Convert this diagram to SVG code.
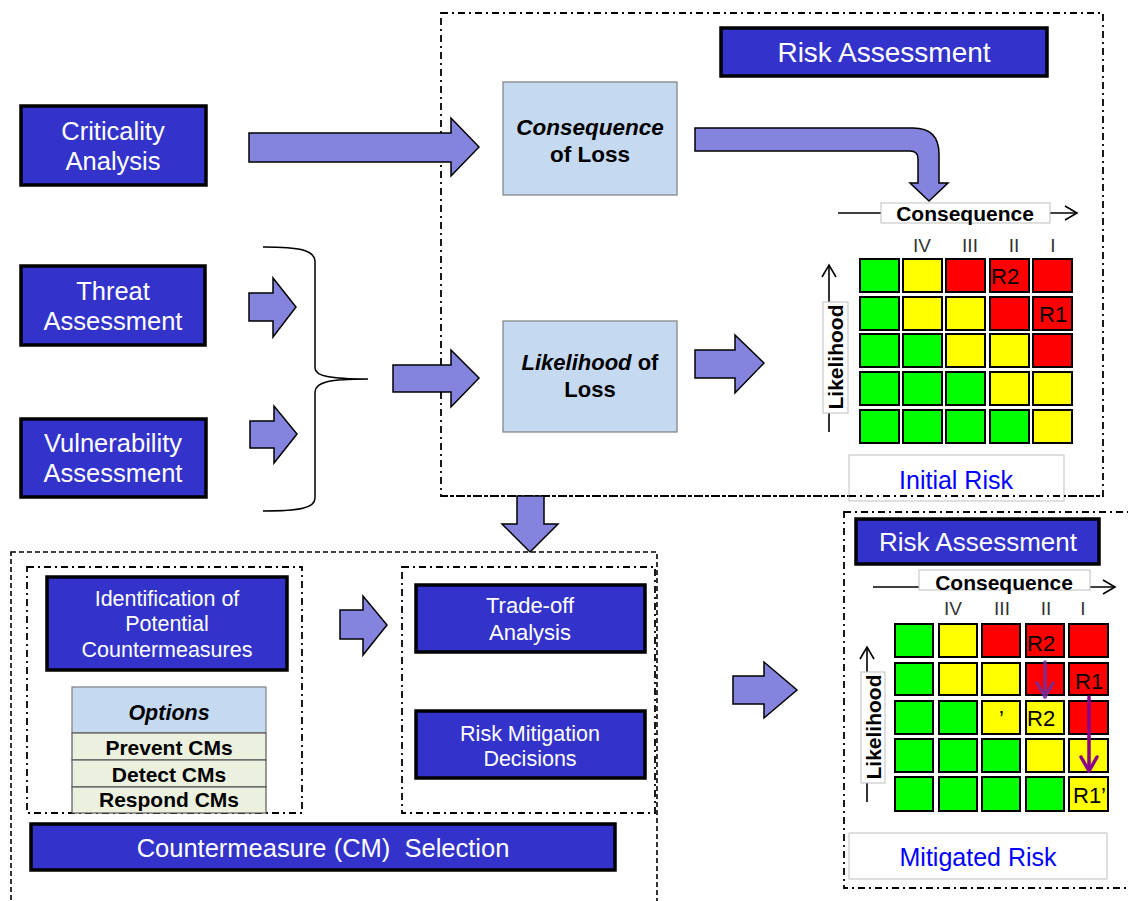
<svg xmlns="http://www.w3.org/2000/svg" width="1128" height="901" viewBox="0 0 1128 901">
<style>
.bg{fill:#fff}
.db{fill:#3333CC;stroke:#000;stroke-width:3.5}
.lb{fill:#C5D9F1;stroke:#7F7F7F;stroke-width:1.2}
.arr{fill:#8484DE;stroke:#000;stroke-width:1.5;stroke-linejoin:miter}
.dd{fill:none;stroke:#000;stroke-width:1.8;stroke-dasharray:7 4 2 4}
.ds{fill:none;stroke:#000;stroke-width:1.6;stroke-dasharray:5 3}
.wt{fill:#fff;font-family:"Liberation Sans",Arial,sans-serif;text-anchor:middle}
.nt{fill:#fff;font-family:"Liberation Sans",Arial,sans-serif;text-anchor:middle}
.bt{fill:#000;font-family:"Liberation Sans",Arial,sans-serif;font-weight:bold;text-anchor:middle}
.bn{fill:#000;font-family:"Liberation Sans",Arial,sans-serif;font-weight:bold;text-anchor:middle}
.num{fill:#333;font-family:"Liberation Sans",Arial,sans-serif;font-size:19px;text-anchor:middle}
.rl{fill:#000;font-family:"Liberation Sans",Arial,sans-serif;font-size:22px}
.blue{fill:#0000FF;font-family:"Liberation Sans",Arial,sans-serif;font-size:25px;text-anchor:middle}
.lbl{fill:#fff;stroke:#BFBFBF;stroke-width:1}
.ax{fill:none;stroke:#000;stroke-width:1.6}
.g{fill:#00FF00;stroke:#000;stroke-width:2}
.y{fill:#FFFF00;stroke:#000;stroke-width:2}
.r{fill:#FF0000;stroke:#000;stroke-width:2}
</style>
<rect class="bg" x="0" y="0" width="1128" height="901"/>

<!-- containers -->
<g id="risk-assessment-frame">
<rect class="dd" x="441" y="13" width="662" height="483"/>
</g>
<g id="cm-selection-frame">
<rect class="ds" x="11" y="552" width="646" height="360"/>
<rect class="dd" x="27" y="567" width="275" height="246"/>
<rect class="dd" x="402" y="567" width="253" height="246"/>
</g>
<g id="mitigated-frame">
<rect class="dd" x="844" y="512" width="290" height="376"/>
</g>

<!-- left inputs -->
<g id="criticality">
<rect class="db" x="21" y="106" width="185" height="79"/>
<text class="wt" font-size="25.5" x="113" y="140">Criticality</text>
<text class="wt" font-size="25.5" x="113" y="170">Analysis</text>
</g>
<g id="threat">
<rect class="db" x="21" y="266" width="184" height="79"/>
<text class="wt" font-size="25.5" x="113" y="300">Threat</text>
<text class="wt" font-size="25.5" x="113" y="330">Assessment</text>
</g>
<g id="vulnerability">
<rect class="db" x="21" y="419" width="185" height="78"/>
<text class="wt" font-size="25.5" x="113" y="452">Vulnerability</text>
<text class="wt" font-size="25.5" x="113" y="482">Assessment</text>
</g>
<g id="brace">
<path d="M263,247 C300,247 315,250 315,262 V368 C315,376 330,379 368,379 C330,379 315,382 315,392 V498 C315,508 300,511 263,511" fill="none" stroke="#000" stroke-width="1.5"/>
</g>

<!-- risk assessment -->
<g id="risk-assessment-title">
<rect class="db" x="721" y="28" width="326" height="48"/>
<text class="wt" font-size="28" x="884" y="62">Risk Assessment</text>
</g>
<g id="consequence-of-loss">
<rect class="lb" x="503" y="82" width="174" height="113"/>
<text class="bt" font-size="22.5" x="590" y="135" font-style="italic">Consequence</text>
<text class="bt" font-size="22.5" x="590" y="162">of Loss</text>
</g>
<g id="likelihood-of-loss">
<rect class="lb" x="503" y="321" width="174" height="111"/>
<text class="bt" font-size="22" x="590" y="370"><tspan font-style="italic">Likelihood</tspan> of</text>
<text class="bt" font-size="22" x="590" y="397">Loss</text>
</g>

<g id="initial-matrix">
<line class="ax" x1="838" y1="213" x2="1076" y2="213"/>
<polyline class="ax" points="1065,206 1077,213 1065,220"/>
<rect class="lbl" x="881" y="203" width="169" height="20"/>
<text class="bt" font-size="21" x="965" y="221">Consequence</text>
<text class="num" x="922" y="252">IV</text>
<text class="num" x="970" y="252">III</text>
<text class="num" x="1014" y="252">II</text>
<text class="num" x="1053" y="252">I</text>
<line class="ax" x1="829" y1="266" x2="829" y2="432"/>
<polyline class="ax" points="822,277 829,265 836,277"/>
<rect class="lbl" x="823" y="302" width="25" height="111"/>
<text class="bt" font-size="21" transform="translate(843,357) rotate(-90)" x="0" y="0">Likelihood</text>
<g>
<rect class="g" x="860" y="259" width="39" height="33"/><rect class="y" x="903" y="259" width="39" height="33"/><rect class="r" x="946" y="259" width="39" height="33"/><rect class="r" x="990" y="259" width="39" height="33"/><rect class="r" x="1033" y="259" width="39" height="33"/>
<rect class="g" x="860" y="297" width="39" height="33"/><rect class="y" x="903" y="297" width="39" height="33"/><rect class="y" x="946" y="297" width="39" height="33"/><rect class="r" x="990" y="297" width="39" height="33"/><rect class="r" x="1033" y="297" width="39" height="33"/>
<rect class="g" x="860" y="334" width="39" height="33"/><rect class="g" x="903" y="334" width="39" height="33"/><rect class="y" x="946" y="334" width="39" height="33"/><rect class="y" x="990" y="334" width="39" height="33"/><rect class="r" x="1033" y="334" width="39" height="33"/>
<rect class="g" x="860" y="372" width="39" height="33"/><rect class="g" x="903" y="372" width="39" height="33"/><rect class="g" x="946" y="372" width="39" height="33"/><rect class="y" x="990" y="372" width="39" height="33"/><rect class="y" x="1033" y="372" width="39" height="33"/>
<rect class="g" x="860" y="410" width="39" height="33"/><rect class="g" x="903" y="410" width="39" height="33"/><rect class="g" x="946" y="410" width="39" height="33"/><rect class="g" x="990" y="410" width="39" height="33"/><rect class="y" x="1033" y="410" width="39" height="33"/>
</g>
<text class="rl" x="991" y="284">R2</text>
<text class="rl" x="1039" y="322">R1</text>
</g>
<g id="initial-risk">
<rect class="lbl" x="849" y="455" width="215" height="46"/>
<text class="blue" x="956" y="489">Initial Risk</text>
</g>
<line x1="441" y1="496" x2="1103" y2="496" class="dd"/>

<!-- CM selection -->
<g id="identification">
<rect class="db" x="47" y="577" width="240" height="93"/>
<text class="nt" font-size="21.5" x="167" y="606">Identification of</text>
<text class="nt" font-size="21.5" x="167" y="631">Potential</text>
<text class="nt" font-size="21.5" x="167" y="657">Countermeasures</text>
</g>
<g id="options">
<rect x="72" y="687" width="194" height="46" fill="#C5D9F1" stroke="#7F7F7F" stroke-width="1.2"/>
<rect x="72" y="733" width="194" height="27" fill="#EBF1DE" stroke="#595959" stroke-width="1.2"/>
<rect x="72" y="760" width="194" height="27" fill="#EBF1DE" stroke="#595959" stroke-width="1.2"/>
<rect x="72" y="787" width="194" height="26" fill="#EBF1DE" stroke="#595959" stroke-width="1.2"/>
<text class="bn" font-size="21.5" font-style="italic" x="169" y="720">Options</text>
<text class="bn" font-size="21" x="169" y="755">Prevent CMs</text>
<text class="bn" font-size="21" x="169" y="782">Detect CMs</text>
<text class="bn" font-size="21" x="169" y="807">Respond CMs</text>
</g>
<g id="tradeoff">
<rect class="db" x="416" y="585" width="229" height="67"/>
<text class="nt" font-size="22" x="530" y="613">Trade-off</text>
<text class="nt" font-size="22" x="530" y="640">Analysis</text>
</g>
<g id="risk-mitigation">
<rect class="db" x="416" y="711" width="229" height="67"/>
<text class="nt" font-size="21.5" x="530" y="741">Risk Mitigation</text>
<text class="nt" font-size="21.5" x="530" y="766">Decisions</text>
</g>
<g id="cm-selection">
<rect class="db" x="31" y="824" width="584" height="46"/>
<text class="nt" font-size="25.5" x="323" y="857" xml:space="preserve">Countermeasure (CM)  Selection</text>
</g>

<!-- mitigated -->
<g id="risk-assessment-2">
<rect class="db" x="856" y="519" width="243" height="45"/>
<text class="wt" font-size="26" x="978" y="551">Risk Assessment</text>
</g>
<g id="mitigated-matrix">
<line class="ax" x1="873" y1="587" x2="1114" y2="587"/>
<polyline class="ax" points="1103,580 1115,587 1103,594"/>
<rect class="lbl" x="919" y="570" width="171" height="20"/>
<text class="bt" font-size="21" x="1004" y="590">Consequence</text>
<text class="num" x="953" y="615">IV</text>
<text class="num" x="1002" y="615">III</text>
<text class="num" x="1046" y="615">II</text>
<text class="num" x="1083" y="615">I</text>
<line class="ax" x1="867" y1="648" x2="867" y2="802"/>
<polyline class="ax" points="860,659 867,647 874,659"/>
<rect class="lbl" x="861" y="672" width="24" height="111"/>
<text class="bt" font-size="21" transform="translate(881,727) rotate(-90)" x="0" y="0">Likelihood</text>
<g>
<rect class="g" x="895" y="624" width="38" height="33"/><rect class="y" x="939" y="624" width="38" height="33"/><rect class="r" x="982" y="624" width="38" height="33"/><rect class="r" x="1026" y="624" width="38" height="33"/><rect class="r" x="1069" y="624" width="39" height="33"/>
<rect class="g" x="895" y="663" width="38" height="32"/><rect class="y" x="939" y="663" width="38" height="32"/><rect class="y" x="982" y="663" width="38" height="32"/><rect class="r" x="1026" y="663" width="38" height="32"/><rect class="r" x="1069" y="663" width="39" height="32"/>
<rect class="g" x="895" y="701" width="38" height="33"/><rect class="g" x="939" y="701" width="38" height="33"/><rect class="y" x="982" y="701" width="38" height="33"/><rect class="y" x="1026" y="701" width="38" height="33"/><rect class="r" x="1069" y="701" width="39" height="33"/>
<rect class="g" x="895" y="739" width="38" height="33"/><rect class="g" x="939" y="739" width="38" height="33"/><rect class="g" x="982" y="739" width="38" height="33"/><rect class="y" x="1026" y="739" width="38" height="33"/><rect class="y" x="1069" y="739" width="39" height="33"/>
<rect class="g" x="895" y="777" width="38" height="34"/><rect class="g" x="939" y="777" width="38" height="34"/><rect class="g" x="982" y="777" width="38" height="34"/><rect class="g" x="1026" y="777" width="38" height="34"/><rect class="y" x="1069" y="777" width="39" height="34"/>
</g>
<text class="rl" x="1027" y="651">R2</text>
<text class="rl" x="1075" y="689">R1</text>
<text class="rl" x="999" y="726">’</text>
<text class="rl" x="1027" y="726">R2</text>
<text class="rl" x="1073" y="803">R1’</text>
</g>
<g id="mitigated-risk">
<rect class="lbl" x="849" y="833" width="258" height="46"/>
<text class="blue" x="978" y="866">Mitigated Risk</text>
</g>

<!-- connectors -->
<g id="connectors">
<path class="arr" d="M249,133 H451 V118 L479,147 L451,176 V162 H249 Z"/>
<path class="arr" d="M249,293 H273 V278 L296,307 L273,337 V321 H249 Z"/>
<path class="arr" d="M250,421 H274 V406 L297,434 L274,463 V448 H250 Z"/>
<path class="arr" d="M393,365 H451 V350 L479,378 L451,407 V392 H393 Z"/>
<path class="arr" d="M695,350 H735 V335 L764,363 L735,393 V378 H695 Z"/>
<path class="arr" d="M695,128 L913,128 Q939,128 939,154 L939,183 L948,183 L929,201 L910,183 L918,183 L918,159 Q918,151 910,151 L695,151 Z"/>
<path class="arr" d="M517,496 V524 H502 L530,552 L558,524 H544 V496 Z"/>
<path class="arr" d="M340,610 H363 V596 L387,625 L363,655 V639 H340 Z"/>
<path class="arr" d="M733,676 H764 V662 L797,690 L764,718 V704 H733 Z"/>
<g fill="none" stroke-width="3.5" stroke-linecap="round" stroke-linejoin="round">
<g stroke="#7030A0" opacity="0.85">
<line x1="1045" y1="662" x2="1045" y2="697"/>
<polyline points="1037,683 1045,697 1053,683"/>
</g>
<g stroke="#8B008B">
<line x1="1089" y1="697" x2="1089" y2="771"/>
<polyline points="1081,757 1089,771 1097,757"/>
</g>
</g>
</g>
</svg>
